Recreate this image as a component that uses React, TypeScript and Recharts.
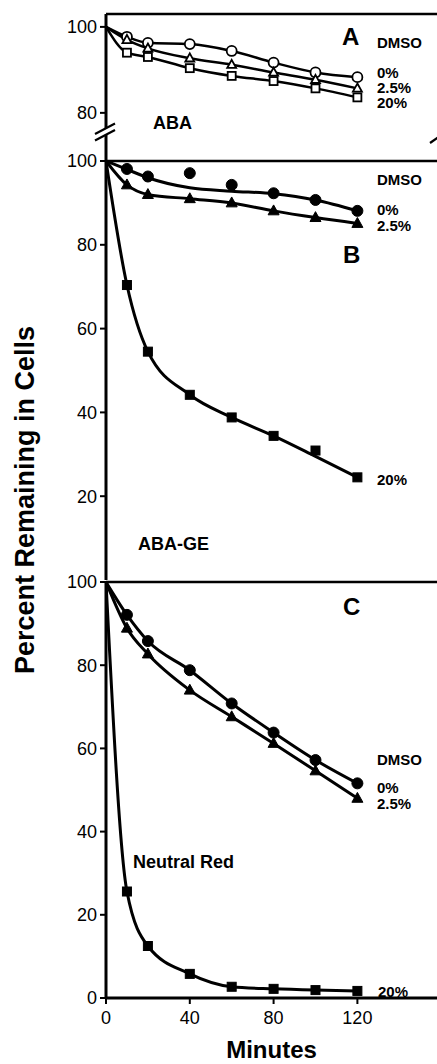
import React from 'react';
import { LineChart, Line, XAxis, YAxis, Label } from 'recharts';

const FONT = '"Liberation Sans", Arial, Helvetica, sans-serif';

const minutes = [0, 10, 20, 40, 60, 80, 100, 120];
const xTicks = [0, 40, 80, 120];
const xTopTicks = [40, 80, 120];

// Panel A – ABA (open symbols)
const abaDmso0 = [100, 97.7, 96.3, 96.0, 94.4, 91.7, 89.4, 88.3];
const abaDmso25 = [100, 97.0, 95.0, 92.7, 91.2, 89.4, 87.7, 85.7];
const abaDmso20 = [100, 94.0, 93.0, 90.4, 88.6, 87.4, 85.7, 83.6];
const abaTicks = [80, 100];

// Panel B – ABA-GE (filled symbols): measured points and drawn curves
const geDmso0Pts = [null, 98.1, 96.3, 97.1, 94.3, 92.3, 90.7, 88.1];
const geDmso0Fit = [100, 98.0, 96.0, 93.6, 92.8, 92.2, 90.7, 88.1];
const geDmso25Pts = [null, 94.3, 92.0, 91.0, 90.0, 88.1, 86.5, 85.1];
const geDmso25Fit = [100, 94.3, 92.0, 91.0, 90.0, 88.1, 86.5, 85.1];
const geDmso20Pts = [null, 70.4, 54.5, 44.2, 38.8, 34.4, 30.9, 24.5];
const geDmso20Fit = [100, 70.4, 54.5, 44.2, 38.8, 34.4, 29.5, 24.5];
const geTicks = [20, 40, 60, 80, 100];

// Panel C – Neutral Red (filled symbols)
const nrDmso0 = [100, 92.1, 85.8, 78.8, 70.8, 63.8, 57.2, 51.6];
const nrDmso25 = [100, 88.9, 82.7, 74.0, 67.6, 61.2, 54.6, 48.0];
const nrDmso20 = [100, 25.6, 12.5, 5.8, 2.7, 2.2, 1.9, 1.7];
const nrTicks = [0, 20, 40, 60, 80, 100];

const pt = (arr: (number | null)[], i: number) => (i === 0 ? null : arr[i]);

const rowsA = minutes.map((t, i) => ({
  t,
  c0: abaDmso0[i], c25: abaDmso25[i], c20: abaDmso20[i],
  p0: pt(abaDmso0, i), p25: pt(abaDmso25, i), p20: pt(abaDmso20, i),
}));
const rowsB = minutes.map((t, i) => ({
  t,
  c0: geDmso0Fit[i], c25: geDmso25Fit[i], c20: geDmso20Fit[i],
  p0: geDmso0Pts[i], p25: geDmso25Pts[i], p20: geDmso20Pts[i],
}));
const rowsC = minutes.map((t, i) => ({
  t,
  c0: nrDmso0[i], c25: nrDmso25[i], c20: nrDmso20[i],
  p0: pt(nrDmso0, i), p25: pt(nrDmso25, i), p20: pt(nrDmso20, i),
}));

type Shape = 'circle' | 'triangle' | 'square';
const makeDot = (shape: Shape, filled: boolean, size: number) => (props: any) => {
  const { cx, cy, index, value } = props;
  const key = `m-${shape}-${index}`;
  if (cx == null || cy == null || value == null || Number.isNaN(cy)) return <g key={key} />;
  const fill = filled ? '#000' : '#fff';
  const sw = filled ? 1 : 1.8;
  if (shape === 'circle')
    return <circle key={key} cx={cx} cy={cy} r={size / 2} fill={fill} stroke="#000" strokeWidth={sw} />;
  if (shape === 'square')
    return (
      <rect key={key} x={cx - size / 2} y={cy - size / 2} width={size} height={size} fill={fill} stroke="#000" strokeWidth={sw} />
    );
  const h = size * 0.9;
  return (
    <polygon
      key={key}
      points={`${cx},${cy - h * 0.6} ${cx + size / 2},${cy + h * 0.4} ${cx - size / 2},${cy + h * 0.4}`}
      fill={fill}
      stroke="#000"
      strokeWidth={sw}
      strokeLinejoin="miter"
    />
  );
};

const X_DOMAIN: [number, number] = [0, 158];
const tickStyle = { fill: '#000', fontSize: 18, fontFamily: FONT };
const axisLine = { stroke: '#000', strokeWidth: 3 };
const thinAxisLine = { stroke: '#000', strokeWidth: 2.5 };
const tickLine = { stroke: '#000', strokeWidth: 2 };

const yAxisProps = {
  type: 'number' as const,
  width: 106,
  allowDataOverflow: true,
  interval: 0 as const,
  tick: tickStyle,
  tickSize: 6,
  tickMargin: 3,
  axisLine: axisLine,
  tickLine: tickLine,
};

function curves(xId: string, width: number) {
  return [
    <Line key="c0" xAxisId={xId} type="monotone" dataKey="c0" stroke="#000" strokeWidth={width} dot={false} activeDot={false} isAnimationActive={false} />,
    <Line key="c25" xAxisId={xId} type="monotone" dataKey="c25" stroke="#000" strokeWidth={width} dot={false} activeDot={false} isAnimationActive={false} />,
    <Line key="c20" xAxisId={xId} type="monotone" dataKey="c20" stroke="#000" strokeWidth={width} dot={false} activeDot={false} isAnimationActive={false} />,
  ];
}

function markers(xId: string, filled: boolean, sizes: [number, number, number]) {
  return [
    <Line key="p0" xAxisId={xId} dataKey="p0" stroke="none" dot={makeDot('circle', filled, sizes[0])} activeDot={false} isAnimationActive={false} />,
    <Line key="p25" xAxisId={xId} dataKey="p25" stroke="none" dot={makeDot('triangle', filled, sizes[1])} activeDot={false} isAnimationActive={false} />,
    <Line key="p20" xAxisId={xId} dataKey="p20" stroke="none" dot={makeDot('square', filled, sizes[2])} activeDot={false} isAnimationActive={false} />,
  ];
}

const txt = { fontFamily: FONT, fontWeight: 700 as const, fill: '#000' };

export default function App() {
  return (
    <div style={{ position: 'absolute', left: 0, top: 0, width: 437, height: 1064, background: '#fff', overflow: 'hidden' }}>
      {/* Panel A */}
      <div style={{ position: 'absolute', left: 0, top: 0 }}>
        <LineChart width={437} height={161} data={rowsA} margin={{ top: 0, right: 0, bottom: 0, left: 0 }}>
          <XAxis xAxisId="top" orientation="top" type="number" dataKey="t" domain={X_DOMAIN} allowDataOverflow height={14}
            ticks={xTopTicks} tick={false} tickLine={false} axisLine={thinAxisLine} />
          <YAxis {...yAxisProps} domain={[68.8, 103]} ticks={abaTicks} />
          {curves('top', 2.5)}
          {markers('top', false, [10, 9, 8])}
        </LineChart>
      </div>

      {/* Panel B */}
      <div style={{ position: 'absolute', left: 0, top: 141 }}>
        <LineChart width={437} height={439} data={rowsB} margin={{ top: 0, right: 0, bottom: 0, left: 0 }}>
          <XAxis xAxisId="top" orientation="top" type="number" dataKey="t" domain={X_DOMAIN} allowDataOverflow height={20}
            ticks={xTopTicks} tick={false} tickSize={5} tickLine={tickLine} axisLine={thinAxisLine} />
          <YAxis {...yAxisProps} domain={[0, 100]} ticks={geTicks} />
          {curves('top', 3)}
          {markers('top', true, [11, 11, 9])}
        </LineChart>
      </div>

      {/* Panel C */}
      <div style={{ position: 'absolute', left: 0, top: 562 }}>
        <LineChart width={437} height={502} data={rowsC} margin={{ top: 0, right: 0, bottom: 0, left: 0 }}>
          <XAxis xAxisId="top" orientation="top" type="number" dataKey="t" domain={X_DOMAIN} allowDataOverflow height={20}
            ticks={xTopTicks} tick={false} tickSize={5} tickLine={tickLine} axisLine={thinAxisLine} />
          <XAxis xAxisId="bottom" orientation="bottom" type="number" dataKey="t" domain={X_DOMAIN} allowDataOverflow height={66}
            ticks={xTicks} interval={0} tick={tickStyle} tickSize={6} tickMargin={7} tickLine={tickLine} axisLine={axisLine}>
            <Label value="Minutes" position="insideBottom" offset={6} style={{ fontFamily: FONT, fontWeight: 700, fontSize: 24, fill: '#000' }} />
          </XAxis>
          <YAxis {...yAxisProps} domain={[0, 100]} ticks={nrTicks} />
          {curves('bottom', 3)}
          {markers('bottom', true, [11, 11, 9])}
        </LineChart>
      </div>

      {/* Labels and axis-break decoration */}
      <svg width={437} height={1064} style={{ position: 'absolute', left: 0, top: 0, pointerEvents: 'none' }}>
        <polygon points="95,134 115,123.5 115,130 95,140.5" fill="#fff" />
        <line x1={95} y1={134} x2={115} y2={123.5} stroke="#000" strokeWidth={2.2} />
        <line x1={95} y1={140.5} x2={115} y2={130} stroke="#000" strokeWidth={2.2} />
        <line x1={430} y1={143} x2={440} y2={136} stroke="#000" strokeWidth={2.2} />

        <text x={34} y={500} transform="rotate(-90 34 500)" textAnchor="middle" style={{ ...txt, fontSize: 27 }}>
          Percent Remaining in Cells
        </text>

        <text x={342} y={45} style={{ ...txt, fontSize: 24 }}>A</text>
        <text x={377} y={48} style={{ ...txt, fontSize: 15 }}>DMSO</text>
        <text x={377} y={78} style={{ ...txt, fontSize: 15 }}>0%</text>
        <text x={377} y={93} style={{ ...txt, fontSize: 15 }}>2.5%</text>
        <text x={377} y={108} style={{ ...txt, fontSize: 15 }}>20%</text>
        <text x={153} y={129} style={{ ...txt, fontSize: 18 }}>ABA</text>

        <text x={377} y={185} style={{ ...txt, fontSize: 15 }}>DMSO</text>
        <text x={377} y={215} style={{ ...txt, fontSize: 15 }}>0%</text>
        <text x={377} y={231} style={{ ...txt, fontSize: 15 }}>2.5%</text>
        <text x={343} y={263} style={{ ...txt, fontSize: 24 }}>B</text>
        <text x={377} y={485} style={{ ...txt, fontSize: 15 }}>20%</text>
        <text x={138} y={550} style={{ ...txt, fontSize: 18 }}>ABA-GE</text>

        <text x={343} y={615} style={{ ...txt, fontSize: 24 }}>C</text>
        <text x={377} y={765} style={{ ...txt, fontSize: 15 }}>DMSO</text>
        <text x={377} y={793} style={{ ...txt, fontSize: 15 }}>0%</text>
        <text x={377} y={809} style={{ ...txt, fontSize: 15 }}>2.5%</text>
        <text x={133} y={868} style={{ ...txt, fontSize: 18 }}>Neutral Red</text>
        <text x={378} y={997} style={{ ...txt, fontSize: 15 }}>20%</text>
      </svg>
    </div>
  );
}
